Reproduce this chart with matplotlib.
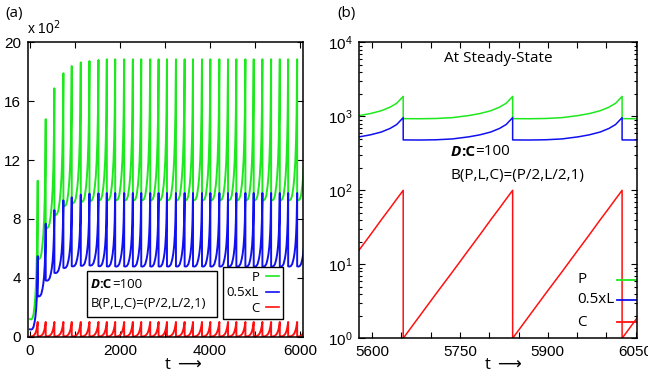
import matplotlib
matplotlib.use("Agg")
import matplotlib.pyplot as plt
from matplotlib.lines import Line2D
from matplotlib.patches import Rectangle
from matplotlib.ticker import MultipleLocator, FixedLocator, LogLocator, NullFormatter
import numpy as np

# ---- data ----
# (a) full run: times of the sharp drops (peaks), values in units of 10^2
peak_t = [171, 349, 542, 742, 928, 1129, 1322, 1522, 1708, 1894, 2094, 2287,
          2473, 2673, 2859, 3045, 3245, 3438, 3624, 3824, 4010, 4210, 4403,
          4588, 4789, 4974, 5167, 5361, 5554, 5740, 5940, 6133]
p_peak = [10.6, 14.78, 16.88, 17.9, 18.39, 18.64, 18.73, 18.8] + [18.85] * 24
p_trough = [5.3, 7.4, 8.3, 8.9, 9.1, 9.2, 9.25, 9.3] + [9.3] * 24
l_peak = [5.47, 7.68, 8.6, 9.26, 9.47, 9.65, 9.72, 9.74] + [9.76] * 24
l_trough = [2.75, 3.82, 4.34, 4.68, 4.79, 4.83, 4.85, 4.8] + [4.78] * 24
c_peak = 1.0
start_vals = {"P": 1.2, "L": 0.5, "C": 0.0}

# (b) steady state: one cycle sampled at these phases (0 = just after drop)
ss_peak_t = [5466, 5653, 5840, 6027, 6214]
ss_phase = [0, 0.15, 0.3, 0.45, 0.6, 0.7, 0.8, 0.88, 0.94, 1.0]
ss_p = [931, 928, 935, 960, 1025, 1090, 1190, 1330, 1500, 1860]
ss_l = [480, 478, 482, 495, 528, 562, 613, 686, 773, 960]
ss_c = [1, 2, 4, 7.9, 15.8, 25, 40, 57.5, 76, 100]

xticks_b = [5600, 5750, 5900, 6050]

GREEN = "#1ee81e"
BLUE = "#1010f0"
RED = "#ff1010"

plt.rcParams["font.family"] = ["Open Sans", "DejaVu Sans"]
TICKFONT = ["Liberation Sans Narrow", "Liberation Sans", "DejaVu Sans"]

# normalised rise shapes taken from the steady-state cycle
frac_p = [(v - ss_p[0]) / (ss_p[-1] - ss_p[0]) for v in ss_p]
frac_c = [(v - ss_c[0]) / (ss_c[-1] - ss_c[0]) for v in ss_c]


def build(t0_list, t1_list, v0_list, v1_list, frac):
    ts, vs = [], []
    for t0, t1, v0, v1 in zip(t0_list, t1_list, v0_list, v1_list):
        for ph, f in zip(ss_phase, frac):
            ts.append(t0 + ph * (t1 - t0))
            vs.append(v0 + f * (v1 - v0))
    return np.array(ts), np.array(vs)


def dc_label(ax, x, y, size):
    # "D:C=100" with bold-italic D and bold :C
    t1 = ax.text(x, y, "D", transform=ax.transAxes, fontsize=size,
                 fontweight="bold", fontstyle="italic", ha="left", va="center",
                 zorder=5)
    t2 = ax.annotate(":C", xycoords=t1, xy=(1, 0), fontsize=size,
                     fontweight="bold", ha="left", va="bottom", zorder=5)
    ax.annotate("=100", xycoords=t2, xy=(1, 0), fontsize=size,
                ha="left", va="bottom", zorder=5)


t_starts = [0] + peak_t[:-1]
tP, vP = build(t_starts, peak_t, [start_vals["P"]] + p_trough[:-1], p_peak, frac_p)
tL, vL = build(t_starts, peak_t, [start_vals["L"]] + l_trough[:-1], l_peak, frac_p)
tC, vC = build(t_starts, peak_t, [start_vals["C"]] + [0] * (len(peak_t) - 1),
               [c_peak] * len(peak_t), frac_c)

fig = plt.figure(figsize=(6.48, 3.85), dpi=100)
ax1 = fig.add_axes([0.0432, 0.1255, 0.4244, 0.7645])
ax2 = fig.add_axes([0.5545, 0.1213, 0.4281, 0.7687])

# ---- panel (a) ----
ax1.plot(tP, vP, color=GREEN, lw=1.4, label="P")
ax1.plot(tL, vL, color=BLUE, lw=1.4, label="0.5xL")
ax1.plot(tC, vC, color=RED, lw=1.4, label="C")
ax1.set_xlim(-45, 6070)
ax1.set_ylim(0, 20)
ax1.xaxis.set_major_locator(MultipleLocator(2000))
ax1.xaxis.set_minor_locator(MultipleLocator(1000))
ax1.yaxis.set_major_locator(MultipleLocator(4))

leg = ax1.legend(markerfirst=False, loc="lower right",
                 bbox_to_anchor=(0.927, 0.06), borderaxespad=0,
                 fontsize=9.5, handlelength=1.0, handletextpad=0.5,
                 labelspacing=0.2, borderpad=0.3, fancybox=False,
                 framealpha=1, edgecolor="black")
leg.get_frame().set_linewidth(1.0)
for h in leg.get_lines():
    h.set_linewidth(1.2)

ax1.add_patch(Rectangle((0.2156, 0.068), 0.472, 0.156, transform=ax1.transAxes,
                        fc="white", ec="black", lw=1.0, zorder=4))
dc_label(ax1, 0.228, 0.176, 9.5)
ax1.text(0.228, 0.113, "B(P,L,C)=(P/2,L/2,1)", transform=ax1.transAxes,
         fontsize=9.5, ha="left", va="center", zorder=5)

fig.text(0.042, 0.905, r"x 10$^2$", fontsize=10, family=TICKFONT, ha="left", va="bottom")
fig.text(0.008, 0.945, "(a)", fontsize=11, ha="left", va="bottom")
fig.text(0.283, 0.03, r"t $\longrightarrow$", fontsize=12, ha="center", va="bottom")

# ---- panel (b) ----
ts_p, vs_p = build(ss_peak_t[:-1], ss_peak_t[1:], [ss_p[0]] * 4, [ss_p[-1]] * 4, frac_p)
ts_l, vs_l = build(ss_peak_t[:-1], ss_peak_t[1:], [ss_l[0]] * 4, [ss_l[-1]] * 4, frac_p)
ts_c, vs_c = build(ss_peak_t[:-1], ss_peak_t[1:], [ss_c[0]] * 4, [ss_c[-1]] * 4, frac_c)
ax2.plot(ts_p, vs_p, color=GREEN, lw=1.1)
ax2.plot(ts_l, vs_l, color=BLUE, lw=1.1)
ax2.plot(ts_c, vs_c, color=RED, lw=1.1)
ax2.set_yscale("log")
ax2.set_xlim(5578, 6052)
ax2.set_ylim(1, 1e4)
ax2.xaxis.set_major_locator(FixedLocator(xticks_b))
ax2.xaxis.set_minor_locator(FixedLocator(np.arange(5600, 6051, 50)))
ax2.yaxis.set_major_locator(LogLocator(base=10))
ax2.yaxis.set_minor_locator(LogLocator(base=10, subs=np.arange(2, 10)))
ax2.yaxis.set_minor_formatter(NullFormatter())

ax2.text(0.5, 0.945, "At Steady-State", transform=ax2.transAxes, fontsize=11,
         ha="center", va="center")
dc_label(ax2, 0.33, 0.63, 11)
ax2.text(0.33, 0.55, "B(P,L,C)=(P/2,L/2,1)", transform=ax2.transAxes,
         fontsize=11, ha="left", va="center")

for lab, col, yy in [("P", GREEN, 0.197), ("0.5xL", BLUE, 0.131), ("C", RED, 0.055)]:
    ax2.text(0.785, yy, lab, transform=ax2.transAxes, fontsize=11, ha="left", va="center")
    ax2.add_line(Line2D([0.93, 1.0], [yy, yy], transform=ax2.transAxes,
                        color=col, lw=1.3))

fig.text(0.777, 0.03, r"t $\longrightarrow$", fontsize=12, ha="center", va="bottom")
fig.text(0.52, 0.945, "(b)", fontsize=11, ha="left", va="bottom")

for ax in (ax1, ax2):
    ax.tick_params(which="both", direction="in", top=True, right=True, width=0.8,
                   labelsize=11, pad=5)
    ax.tick_params(which="major", length=4)
    for lab in ax.get_xticklabels() + ax.get_yticklabels():
        lab.set_family(TICKFONT)
    for s in ax.spines.values():
        s.set_linewidth(1.1)
ax1.tick_params(which="minor", length=4)
ax2.tick_params(axis="x", which="minor", length=4)
ax2.tick_params(axis="y", which="minor", length=2)

fig.savefig("out.png", dpi=100)
